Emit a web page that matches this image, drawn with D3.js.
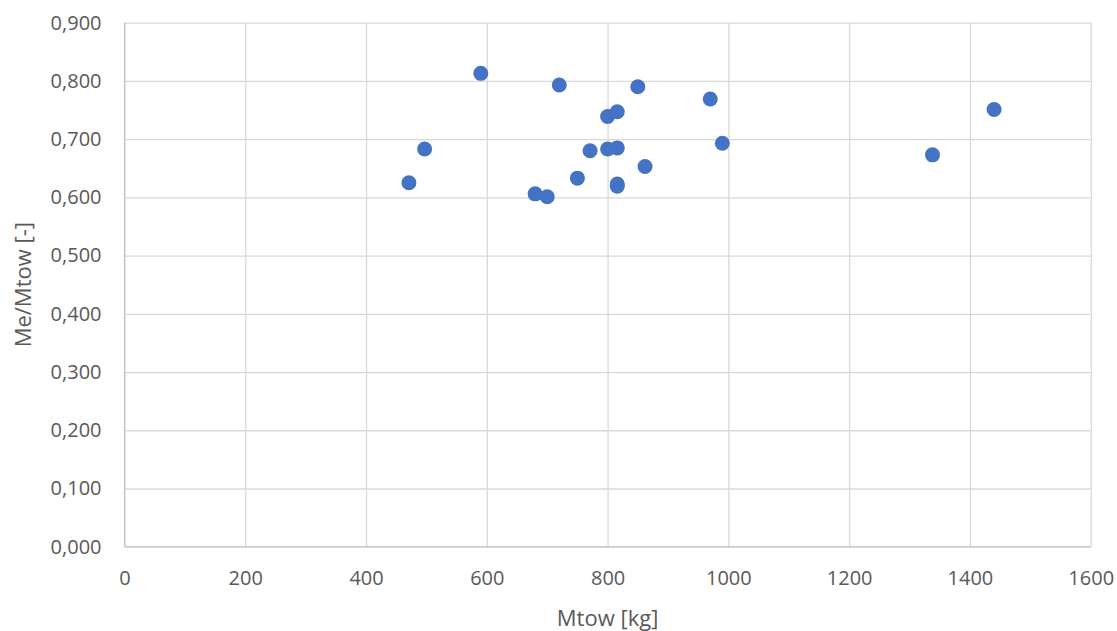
<!DOCTYPE html>
<html>
<head>
<meta charset="utf-8">
<script src="https://cdn.jsdelivr.net/npm/d3@7"></script>
<style>
  html, body { margin: 0; padding: 0; background: #ffffff; }
  svg { display: block; }
</style>
</head>
<body>
<svg id="chart" width="1117" height="631"></svg>
<script>
// Maximum take-off mass [kg] and empty-mass fraction per aircraft
const mtow = [590, 720, 850, 970, 800, 816, 990, 771, 800, 816, 862, 750, 816, 816, 680, 700, 497, 471, 1338, 1440];
const meRatio = [0.813, 0.793, 0.790, 0.769, 0.739, 0.747, 0.693, 0.680, 0.683, 0.685, 0.653, 0.633, 0.623, 0.619, 0.606, 0.601, 0.683, 0.625, 0.673, 0.751];

const xTicks = [0, 200, 400, 600, 800, 1000, 1200, 1400, 1600];
const yTicks = [0, 0.1, 0.2, 0.3, 0.4, 0.5, 0.6, 0.7, 0.8, 0.9];

const xTitle = "Mtow [kg]";
const yTitle = "Me/Mtow [-]";

const svg = d3.select("#chart");
const margin = { left: 124.5, right: 1117 - 1090.7, top: 22.7, bottom: 631 - 546.7 };
const W = 1117, H = 631;

const x = d3.scaleLinear().domain([0, 1600]).range([margin.left, W - margin.right]);
const y = d3.scaleLinear().domain([0, 0.9]).range([H - margin.bottom, margin.top]);

const font = "'Open Sans', 'Noto Sans', sans-serif";
const textColor = "#595959";
const gridColor = "#d9d9d9";

// gridlines
svg.append("g")
  .attr("transform", `translate(0,${y(0)})`)
  .call(d3.axisBottom(x).tickValues(xTicks).tickSize(-(y(0) - y(0.9))).tickFormat(""))
  .call(g => g.select(".domain").remove())
  .call(g => g.selectAll("line").attr("stroke", gridColor).attr("stroke-width", 1.3));

svg.append("g")
  .attr("transform", `translate(${x(0)},0)`)
  .call(d3.axisLeft(y).tickValues(yTicks).tickSize(-(x(1600) - x(0))).tickFormat(""))
  .call(g => g.select(".domain").remove())
  .call(g => g.selectAll("line").attr("stroke", gridColor).attr("stroke-width", 1.3));

// axis lines
svg.append("line")
  .attr("x1", x(0)).attr("x2", x(1600)).attr("y1", y(0)).attr("y2", y(0))
  .attr("stroke", "#c8c8c8").attr("stroke-width", 1.3);
svg.append("line")
  .attr("x1", x(0)).attr("x2", x(0)).attr("y1", y(0)).attr("y2", y(0.9))
  .attr("stroke", "#c8c8c8").attr("stroke-width", 1.3);

// tick labels
const fmtY = v => d3.format(".3f")(v).replace(".", ",");

const xAxis = svg.append("g")
  .attr("transform", `translate(0,${y(0)})`)
  .call(d3.axisBottom(x).tickValues(xTicks).tickSize(0).tickPadding(24).tickFormat(d3.format("d")));
xAxis.select(".domain").remove();
xAxis.selectAll("text").attr("fill", textColor).style("font-family", font).style("font-size", "20px");

const yAxis = svg.append("g")
  .attr("transform", `translate(${x(0)},0)`)
  .call(d3.axisLeft(y).tickValues(yTicks).tickSize(0).tickPadding(23).tickFormat(fmtY));
yAxis.select(".domain").remove();
yAxis.selectAll("text").attr("fill", textColor).style("font-family", font).style("font-size", "20px");

// axis titles
svg.append("text")
  .attr("x", (x(0) + x(1600)) / 2)
  .attr("y", 626)
  .attr("text-anchor", "middle")
  .attr("fill", textColor)
  .style("font-family", font).style("font-size", "22px")
  .text(xTitle);

svg.append("text")
  .attr("transform", `translate(31,${(y(0) + y(0.9)) / 2}) rotate(-90)`)
  .attr("text-anchor", "middle")
  .attr("fill", textColor)
  .style("font-family", font).style("font-size", "22px")
  .text(yTitle);

// data points
const data = mtow.map((m, i) => ({ m, r: meRatio[i] }));
svg.append("g")
  .selectAll("circle")
  .data(data)
  .join("circle")
  .attr("cx", d => x(d.m))
  .attr("cy", d => y(d.r))
  .attr("r", 7.5)
  .attr("fill", "#4472c4");
</script>
</body>
</html>
